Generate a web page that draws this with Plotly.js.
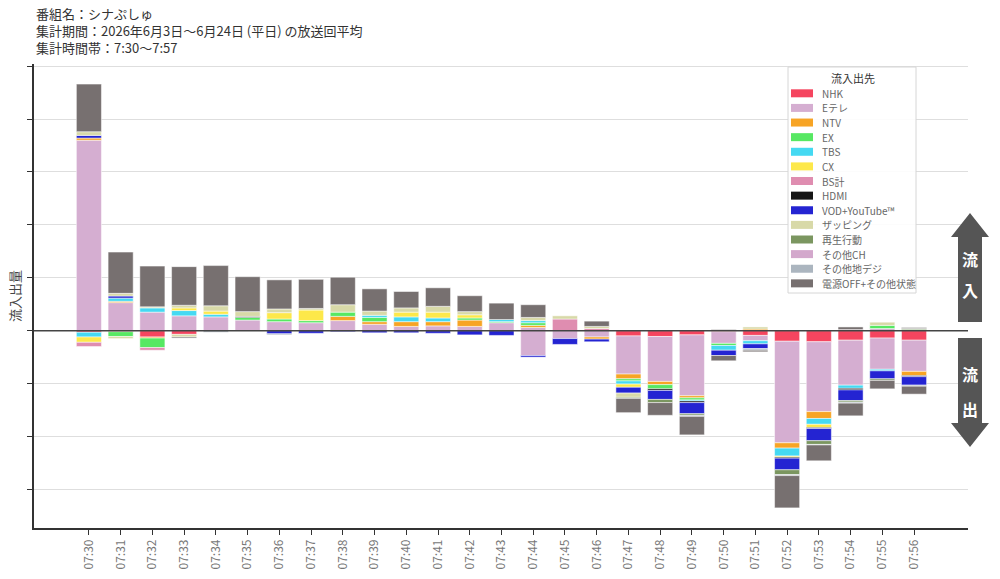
<!DOCTYPE html>
<html>
<head>
<meta charset="utf-8">
<script src="https://cdn.plot.ly/plotly-3.0.1.min.js"></script>
<style>
html, body { margin: 0; padding: 0; background: #fff; }
#chart { width: 1000px; height: 579px; }
</style>
</head>
<body>
<div id="chart"></div>
<script>
// minutes of the broadcast
var times = ['07:30','07:31','07:32','07:33','07:34','07:35','07:36','07:37','07:38','07:39',
             '07:40','07:41','07:42','07:43','07:44','07:45','07:46','07:47','07:48','07:49',
             '07:50','07:51','07:52','07:53','07:54','07:55','07:56'];

var names = ['NHK','Eテレ','NTV','EX','TBS','CX','BS計','HDMI','VOD+YouTube™','ザッピング',
             '再生行動','その他CH','その他地デジ','電源OFF+その他状態'];
var colors = ['#f5455f','#d5aed1','#f7a425','#57e863','#45d9f2','#fde84a','#df8db0','#151515',
              '#2424d2','#d8d9a8','#7b9660','#d3a8cc','#abb5bf','#777070'];

// inflow (stacked up from zero)
var nhkIn   = [0,0,0,0,0, 0,0,0,0,0, 0,0,0,0,0, 0,0,0,0,0, 0,0,0,0,0, 0,0];
var etvIn   = [3.60,0.53,0.35,0.28,0.26, 0.20,0.17,0.15,0.19,0.12, 0.08,0.09,0.08,0.15,0.06, 0,0,0,0,0, 0,0,0,0,0, 0.04,0];
var ntvIn   = [0.04,0.025,0,0,0, 0,0,0,0.08,0.05, 0.09,0.08,0.12,0,0.04, 0,0,0,0,0, 0,0.03,0,0,0, 0,0];
var exIn    = [0,0,0,0,0, 0.05,0.05,0.04,0.08,0.08, 0,0,0.04,0.02,0.05, 0,0,0,0,0, 0,0,0,0,0, 0.06,0.02];
var tbsIn   = [0,0.06,0.08,0.10,0.05, 0,0,0,0,0.04, 0.09,0.07,0,0.04,0.04, 0,0,0,0,0, 0,0,0,0,0, 0,0];
var cxIn    = [0,0,0,0.05,0.06, 0,0.12,0.20,0,0, 0.09,0.11,0.06,0,0, 0,0,0,0,0, 0,0,0,0,0, 0,0];
var bsIn    = [0,0,0,0,0, 0,0,0,0,0, 0,0,0,0,0, 0.22,0.04,0,0,0, 0,0,0,0,0.02, 0,0];
var hdmiIn  = [0,0,0,0,0, 0.02,0,0,0,0, 0,0,0,0,0, 0,0,0,0,0, 0,0,0,0,0, 0,0];
var vodIn   = [0.05,0.04,0,0,0, 0,0,0,0,0, 0,0,0,0,0, 0,0,0,0,0, 0,0,0,0,0, 0,0];
var zapIn   = [0.07,0.05,0.02,0.05,0.10, 0.09,0.07,0.03,0.14,0.08, 0.08,0.11,0.06,0,0.06, 0.06,0.04,0,0,0, 0,0.04,0,0,0, 0.06,0];
var playIn  = [0,0,0,0,0, 0,0,0,0,0, 0,0,0,0,0, 0,0,0,0,0, 0,0,0,0,0, 0,0.02];
var othChIn = [0,0,0,0,0, 0,0,0,0,0, 0,0,0,0,0, 0,0,0,0,0, 0,0,0,0,0, 0,0];
var othDtIn = [0,0,0,0,0, 0,0,0,0,0, 0,0,0,0,0, 0,0,0,0,0, 0,0,0,0,0, 0,0];
var offIn   = [0.90,0.78,0.77,0.73,0.76, 0.66,0.55,0.55,0.52,0.42, 0.31,0.35,0.30,0.31,0.24, 0,0.10,0,0,0, 0.02,0,0,0,0.05, 0,0.02];

// outflow (size of the loss, drawn below zero)
var nhkOut   = [0.03,0.02,0.12,0.07,0, 0,0,0,0,0, 0,0,0,0,0, 0,0,0.10,0.11,0.08, 0.02,0.09,0.20,0.21,0.18, 0.14,0.18];
var etvOut   = [0,0,0,0,0, 0,0,0,0,0, 0,0,0,0,0.47, 0.15,0.12,0.72,0.85,1.15, 0.22,0.10,1.92,1.32,0.85, 0.59,0.59];
var ntvOut   = [0,0,0.02,0,0, 0,0,0,0,0, 0,0,0,0,0, 0,0.04,0.09,0.06,0.04, 0,0,0.10,0.13,0, 0,0.08];
var exOut    = [0,0.09,0.18,0,0, 0,0,0,0,0, 0,0,0,0,0, 0,0,0.04,0.08,0.04, 0.04,0,0,0,0, 0,0];
var tbsOut   = [0.09,0,0,0,0, 0,0,0,0,0, 0,0,0,0,0, 0,0,0.06,0,0.02, 0.09,0.06,0.15,0.11,0.06, 0.03,0];
var cxOut    = [0.10,0,0,0,0, 0,0,0,0,0, 0,0,0,0,0, 0,0,0.06,0,0, 0,0,0.02,0.06,0, 0,0];
var bsOut    = [0.08,0,0.05,0,0, 0,0,0,0,0, 0,0,0,0,0, 0,0,0,0,0, 0,0,0,0,0, 0,0];
var hdmiOut  = [0,0,0,0,0, 0,0,0,0,0, 0,0,0,0,0, 0,0,0,0.03,0.03, 0,0,0.02,0.02,0.03, 0,0.02];
var vodOut   = [0,0,0,0,0, 0,0.06,0.05,0.02,0.04, 0.04,0.05,0.08,0.09,0.03, 0.11,0.05,0.11,0.17,0.21, 0.10,0.09,0.22,0.23,0.20, 0.15,0.16];
var zapOut   = [0,0.04,0,0.05,0, 0,0,0,0,0, 0,0,0,0,0, 0,0,0.08,0,0, 0,0,0,0,0, 0,0];
var playOut  = [0,0,0,0,0, 0,0,0,0,0, 0,0,0,0,0, 0,0,0.02,0.06,0.03, 0,0,0.09,0.07,0.03, 0.03,0];
var othChOut = [0,0,0,0,0, 0,0,0,0,0, 0,0,0,0,0, 0,0,0,0,0, 0,0,0,0,0, 0,0];
var othDtOut = [0,0,0,0,0.03, 0,0.02,0,0,0, 0,0,0,0,0, 0,0,0,0,0.02, 0,0.03,0.02,0.01,0.02, 0,0.02];
var offOut   = [0,0,0,0.02,0, 0,0,0,0,0, 0,0,0,0,0, 0,0,0.27,0.24,0.35, 0.10,0.03,0.61,0.30,0.24, 0.16,0.15];

var inflows  = [nhkIn, etvIn, ntvIn, exIn, tbsIn, cxIn, bsIn, hdmiIn, vodIn, zapIn, playIn, othChIn, othDtIn, offIn];
var outflows = [nhkOut, etvOut, ntvOut, exOut, tbsOut, cxOut, bsOut, hdmiOut, vodOut, zapOut, playOut, othChOut, othDtOut, offOut];

var font = '"Noto Sans CJK JP", "Noto Sans", sans-serif';

function barTrace(i, vals, sign) {
    return {
        type: 'bar',
        x: times,
        y: vals.map(function (v) { return v === 0 ? null : sign * v; }),
        name: names[i],
        legendgroup: names[i],
        showlegend: false,
        marker: {color: colors[i], line: {color: '#ffffff', width: 0.5}},
        hovertemplate: '%{x} ' + names[i] + ': %{y}<extra></extra>'
    };
}

var data = [];
names.forEach(function (n, i) { data.push(barTrace(i, inflows[i], 1)); });
names.forEach(function (n, i) { data.push(barTrace(i, outflows[i], -1)); });

// pixel -> paper helpers for the decorations (plot area is 34..968 x 64..528)
function px(x) { return (x - 34) / 934; }
function py(y) { return (528 - y) / 464; }

var shapes = [];
var annotations = [];

// heading lines
var heading = ['番組名：シナぷしゅ',
               '集計期間：2026年6月3日～6月24日 (平日) の放送回平均',
               '集計時間帯：7:30～7:57'];
heading.forEach(function (t, k) {
    annotations.push({xref: 'paper', yref: 'paper', x: px(35), y: py(13 + 17.5 * k),
        xanchor: 'left', yanchor: 'middle', showarrow: false, text: t, borderpad: 0,
        font: {family: font, size: 13, color: '#333'}});
});

// zero line on top of bars
shapes.push({type: 'line', xref: 'paper', yref: 'y', x0: 0, x1: 1, y0: 0, y1: 0,
    line: {color: '#444', width: 1.5}, layer: 'above'});

// legend box
shapes.push({type: 'rect', xref: 'paper', yref: 'paper', x0: px(788), x1: px(916), y0: py(67), y1: py(293),
    line: {color: '#d6d6d6', width: 1}, fillcolor: 'rgba(255,255,255,0.9)', layer: 'above'});
annotations.push({xref: 'paper', yref: 'paper', x: px(853), y: py(78), xanchor: 'center', yanchor: 'middle',
    showarrow: false, text: '流入出先', font: {family: font, size: 11, color: '#333'}});
names.forEach(function (n, i) {
    var cy = 93.3 + i * 14.62;
    shapes.push({type: 'rect', xref: 'paper', yref: 'paper', x0: px(791), x1: px(813), y0: py(cy + 4), y1: py(cy - 4),
        line: {width: 0}, fillcolor: colors[i], layer: 'above'});
    annotations.push({xref: 'paper', yref: 'paper', x: px(820), y: py(cy), xanchor: 'left', yanchor: 'middle',
        showarrow: false, text: n, font: {family: font, size: 10, color: '#666'}});
});

// in / out arrows on the right
function arrowPath(pts) {
    return 'M' + pts.map(function (p) { return px(p[0]) + ',' + py(p[1]); }).join(' L') + ' Z';
}
shapes.push({type: 'path', xref: 'paper', yref: 'paper', fillcolor: '#555', line: {width: 0},
    path: arrowPath([[970,213],[989,237],[982,237],[982,322],[958,322],[958,237],[951,237]])});
shapes.push({type: 'path', xref: 'paper', yref: 'paper', fillcolor: '#555', line: {width: 0},
    path: arrowPath([[958,338],[982,338],[982,423],[989,423],[970,447],[951,423],[958,423]])});
[['流',259],['入',290],['流',374],['出',409]].forEach(function (a) {
    annotations.push({xref: 'paper', yref: 'paper', x: px(970), y: py(a[1]), xanchor: 'center', yanchor: 'middle',
        showarrow: false, text: '<b>' + a[0] + '</b>', font: {family: font, size: 16, color: '#fff'}});
});

var layout = {
    width: 1000,
    height: 579,
    margin: {l: 34, r: 32, t: 64, b: 51},
    paper_bgcolor: '#fff',
    plot_bgcolor: '#fff',
    barmode: 'relative',
    bargap: 0.21,
    showlegend: false,
    font: {family: font, color: '#444'},
    xaxis: {
        type: 'category',
        range: [-1.73, 27.7],
        showgrid: false,
        zeroline: false,
        showline: true, linecolor: '#333', linewidth: 1.5,
        ticks: 'outside', ticklen: 5, tickcolor: '#333',
        tickangle: -90,
        tickfont: {family: font, size: 12, color: '#777'}
    },
    yaxis: {
        range: [-3.73, 5.04],
        dtick: 1, tick0: 0,
        showticklabels: false,
        showgrid: true, gridcolor: '#dedede', gridwidth: 1,
        zeroline: false,
        showline: true, linecolor: '#333', linewidth: 1.5,
        ticks: 'outside', ticklen: 5, tickcolor: '#333',
        automargin: true,
        title: {text: '流入出量', standoff: 4, font: {family: font, size: 13, color: '#444'}}
    },
    shapes: shapes,
    annotations: annotations
};

Plotly.newPlot('chart', data, layout, {displayModeBar: false});
</script>
</body>
</html>
